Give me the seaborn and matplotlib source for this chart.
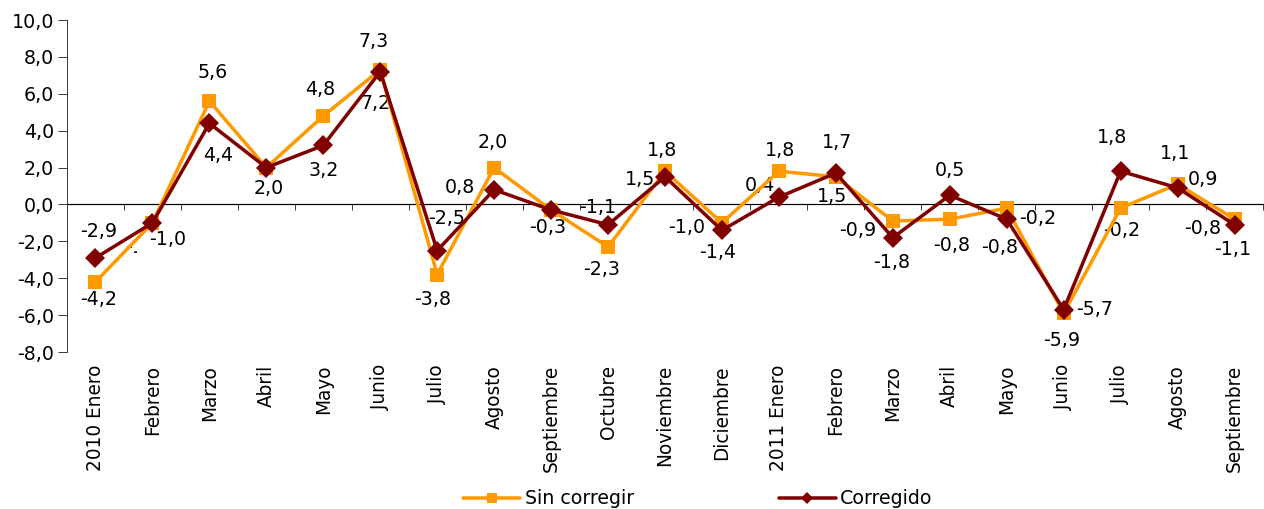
import matplotlib
matplotlib.use("Agg")
import matplotlib.pyplot as plt
import matplotlib.ticker as mticker
from matplotlib.lines import Line2D
import seaborn as sns
import pandas as pd

months = ["2010 Enero", "Febrero", "Marzo", "Abril", "Mayo", "Junio", "Julio",
          "Agosto", "Septiembre", "Octubre", "Noviembre", "Diciembre",
          "2011 Enero", "Febrero", "Marzo", "Abril", "Mayo", "Junio", "Julio",
          "Agosto", "Septiembre"]
sin_corregir = [-4.2, -1.0, 5.6, 2.0, 4.8, 7.3, -3.8, 2.0, -0.3, -2.3, 1.8, -1.0,
                1.8, 1.5, -0.9, -0.8, -0.2, -5.9, -0.2, 1.1, -0.8]
corregido = [-2.9, -1.0, 4.4, 2.0, 3.2, 7.2, -2.5, 0.8, -0.3, -1.1, 1.5, -1.4,
             0.4, 1.7, -1.8, 0.5, -0.8, -5.7, 1.8, 0.9, -1.1]
series_names = ["Sin corregir", "Corregido"]
y_ticks = [-8, -6, -4, -2, 0, 2, 4, 6, 8, 10]

# label offsets (pixels) for each data label; None = label not shown
off_sin = [(3, -18), (-9, -25), (3, 29), None, (-3, 26), (-7, 28), (-5, -25),
           (-1, 25), None, (-6, -23), (-3, 21), (-35, -5), (1, 21), (-4, -20),
           (-35, -9), (2, -26), (31, -10), (-2, -27), (1, -22), (-3, 31), (-32, -9)]
off_cor = [(3, 26), (15, -17), (9, -32), (2, -21), (0, -25), (-5, -32), (9, 32),
           (-34, 2), (-3, -18), (-10, 17), (-25, -3), (-4, -22), (-19, 12), (1, 31),
           (-1, -25), (0, 25), (-7, -28), (31, 0), (-9, 34), (25, 8), (-2, -25)]

ORANGE = "#FF9900"
DARK = "#800000"

sns.set_style("white")
plt.rcParams["font.family"] = ["DejaVu Sans"]
plt.rcParams["text.color"] = "black"
plt.rcParams["xtick.color"] = "black"
plt.rcParams["ytick.color"] = "black"
plt.rcParams["axes.labelcolor"] = "black"

DPI = 72
fig = plt.figure(figsize=(1264 / DPI, 509 / DPI), dpi=DPI)
ax = fig.add_axes([67 / 1264, 1 - 352 / 509, (1263 - 67) / 1264, (352 - 20) / 509])

df = pd.DataFrame({"x": list(range(len(months))) * 2,
                   "valor": sin_corregir + corregido,
                   "serie": [series_names[0]] * len(months) + [series_names[1]] * len(months)})

sns.lineplot(data=df[df.serie == series_names[0]], x="x", y="valor", ax=ax,
             color=ORANGE, lw=3.5, marker="s", markersize=14, markeredgewidth=0,
             zorder=3, legend=False)
sns.lineplot(data=df[df.serie == series_names[1]], x="x", y="valor", ax=ax,
             color=DARK, lw=3.5, marker="D", markersize=14, markeredgewidth=0,
             zorder=4, legend=False)

def fmt(v):
    return f"{v:.1f}".replace(".", ",")

for i, v in enumerate(sin_corregir):
    o = off_sin[i]
    if o is None:
        continue
    ax.annotate(fmt(v), xy=(i, v), xytext=o, textcoords="offset points",
                ha="center", va="center", fontsize=19, color="black", zorder=1.4)
for i, v in enumerate(corregido):
    o = off_cor[i]
    if o is None:
        continue
    kw = {}
    if i == 1:
        kw["bbox"] = dict(boxstyle="square,pad=0.6", facecolor="white", edgecolor="none")
    ax.annotate(fmt(v), xy=(i, v), xytext=o, textcoords="offset points",
                ha="center", va="center", fontsize=19, color="black", zorder=1.5, **kw)

ax.set_xlim(-0.5, len(months) - 0.5)
ax.set_ylim(-8, 10)
ax.set_xlabel("")
ax.set_ylabel("")

# y axis
ax.set_yticks(y_ticks)
ax.yaxis.set_major_formatter(mticker.FuncFormatter(lambda v, p: fmt(v)))
ax.tick_params(axis="y", which="major", direction="out", length=9, width=1,
               color="#404040", labelcolor="black", labelsize=19, pad=4, left=True)
ax.spines["left"].set_color("#404040")
ax.spines["left"].set_linewidth(1)
ax.spines["top"].set_visible(False)
ax.spines["right"].set_visible(False)

# x axis line at zero with boundary ticks
ax.spines["bottom"].set_position(("data", 0))
ax.spines["bottom"].set_color("black")
ax.spines["bottom"].set_linewidth(1.2)
ax.set_xticks([i for i in range(len(months))])
ax.set_xticks([i - 0.5 for i in range(len(months) + 1)], minor=True)
ax.tick_params(axis="x", which="major", length=0, labelbottom=False)
ax.tick_params(axis="x", which="minor", direction="out", length=6, width=1,
               color="#404040", bottom=True)

sec = ax.secondary_xaxis("bottom")
sec.set_xticks(list(range(len(months))))
sec.set_xticklabels(months, rotation=90, fontsize=18.5, color="black")
sec.tick_params(axis="x", length=0, pad=13, labelcolor="black")
sec.spines["bottom"].set_visible(False)

handles = [Line2D([], [], color=ORANGE, lw=3.5, marker="s", markersize=10, markeredgewidth=0),
           Line2D([], [], color=DARK, lw=3.5, marker="D", markersize=8, markeredgewidth=0)]
leg = fig.legend(handles, series_names, loc="center", bbox_to_anchor=(698 / 1264, 1 - 499 / 509),
                 ncol=2, frameon=False, fontsize=19, handlelength=3.0, handletextpad=0.25,
                 columnspacing=7.6, borderpad=0, borderaxespad=0)
for t in leg.get_texts():
    t.set_color("black")

fig.savefig("out.png", dpi=DPI)
